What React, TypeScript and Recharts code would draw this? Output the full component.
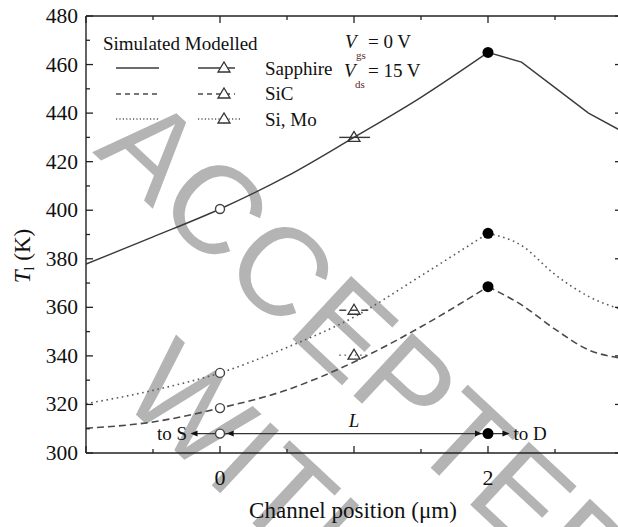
import React from 'react';
import {
  ComposedChart,
  Line,
  Scatter,
  XAxis,
  YAxis,
  ReferenceLine,
  ReferenceDot,
} from 'recharts';

// ---- data ----
const xRise = [-1, -0.5, 0, 0.5, 1, 1.5, 2];
const sapphireRise = [377.8, 389, 400.5, 414, 430, 446.5, 465];
const sicRise = [310.2, 312.8, 318.5, 326, 337.5, 352, 368.5];
const siMoRise = [320.3, 325.8, 333, 343.5, 356, 373, 390.5];

const xFall = [2, 2.25, 2.5, 2.75, 3];
const sapphireFall = [465, 461, 450.5, 440, 432.5];
const sicFall = [368.5, 361, 351, 342.5, 339];
const siMoFall = [390.5, 385.5, 373.5, 364.5, 359];

const sourceX = 0;
const drainX = 2;
const simSourceT = [400.5, 333, 318.5];
const simPeakT = [465, 390.5, 368.5];

const modelX = 1;
const modelT = [430, 358.8, 340.3];
const modelStyle = ['solid', 'dashed', 'dotted'];
const modelErr = [0.11, 0.12];

const channelY = 308;
const channelExtent = [-0.2, 2.15];
const arrowX = [-0.22, 0.05, 1.955, 2.16];
const arrowDir = [-1, -1, 1, 1];
const toSX = -0.245;
const toDX = 2.19;
const lengthLabel = { x: 1, y: 313.5 };

const xTicks = [-1, -0.5, 0, 0.5, 1, 1.5, 2, 2.5, 3];
const xTickLabels: Record<string, string> = { '0': '0', '2': '2' };
const yTicks = [300, 310, 320, 330, 340, 350, 360, 370, 380, 390, 400, 410, 420, 430, 440, 450, 460, 470, 480];
const yMajor = 20;

const watermarkLines = ['ACCEPTED', 'WITH'];

// ---- build tables ----
const mk = (xs: number[], ys: number[]) => xs.map((x, i) => ({ x, y: ys[i] }));
const sapphireRiseData = mk(xRise, sapphireRise);
const sicRiseData = mk(xRise, sicRise);
const siMoRiseData = mk(xRise, siMoRise);
const sapphireFallData = mk(xFall, sapphireFall);
const sicFallData = mk(xFall, sicFall);
const siMoFallData = mk(xFall, siMoFall);
const openData = [...simSourceT.map((y) => ({ x: sourceX, y })), { x: sourceX, y: channelY }];
const filledData = [...simPeakT.map((y) => ({ x: drainX, y })), { x: drainX, y: channelY }];
const modelData = modelT.map((y) => ({ x: modelX, y }));
const arrowData = arrowX.map((x, i) => ({ x, y: channelY, dir: arrowDir[i] }));

const SERIF = 'Liberation Serif, Tinos, Times New Roman, DejaVu Serif, serif';
const serif = { fontFamily: SERIF } as React.CSSProperties;
const INK = '#222';
const SOLID = '#3a3a3a';
const DASH = '#4a4a4a';
const DOT = '#5a5a5a';
const dashFor: Record<string, string | undefined> = { solid: undefined, dashed: '7 4', dotted: '1.6 3.6' };
const colFor: Record<string, string> = { solid: SOLID, dashed: DASH, dotted: DOT };

const isMajorX = (v: number) => Number.isInteger(v);
const isMajorY = (v: number) => v % yMajor === 0;

const BottomTick = (p: any) => {
  const v = p.payload.value;
  const len = isMajorX(v) ? 7 : 4;
  const lab = xTickLabels[String(v)];
  return (
    <g>
      <line x1={p.x} x2={p.x} y1={p.y} y2={p.y - len} stroke={INK} strokeWidth={1.3} />
      {lab !== undefined && (
        <text x={p.x} y={p.y + 32} textAnchor="middle" style={serif} fontSize={22} fill="#111">
          {lab}
        </text>
      )}
    </g>
  );
};
const TopTick = (p: any) => {
  const v = p.payload.value;
  const len = isMajorX(v) ? 7 : 4;
  return <line x1={p.x} x2={p.x} y1={p.y} y2={p.y + len} stroke={INK} strokeWidth={1.3} />;
};
const LeftTick = (p: any) => {
  const v = p.payload.value;
  const major = isMajorY(v);
  return (
    <g>
      <line x1={p.x} x2={p.x + (major ? 7 : 4)} y1={p.y} y2={p.y} stroke={INK} strokeWidth={1.3} />
      {major && (
        <text x={p.x - 8} y={p.y + 7} textAnchor="end" style={serif} fontSize={21.5} fill="#111">
          {v}
        </text>
      )}
    </g>
  );
};
const RightTick = (p: any) => {
  const v = p.payload.value;
  const len = isMajorY(v) ? 7 : 4;
  return <line x1={p.x} x2={p.x - len} y1={p.y} y2={p.y} stroke={INK} strokeWidth={1.3} />;
};

const OpenCircle = (p: any) => (
  <circle cx={p.cx} cy={p.cy} r={4.5} fill="#fff" stroke="#444" strokeWidth={1.4} />
);
const FilledCircle = (p: any) => <circle cx={p.cx} cy={p.cy} r={5.5} fill="#000" />;
const Triangle = (p: any) => (
  <polygon
    points={`${p.cx - 6},${p.cy + 4} ${p.cx + 6},${p.cy + 4} ${p.cx},${p.cy - 6}`}
    fill="none"
    stroke="#333"
    strokeWidth={1.3}
  />
);
const Arrow = (p: any) => {
  const d = p.payload.dir;
  return (
    <polygon
      points={`${p.cx},${p.cy} ${p.cx - d * 7},${p.cy - 3} ${p.cx - d * 7},${p.cy + 3}`}
      fill="#111"
    />
  );
};

const textShape = (txt: string, anchor: 'start' | 'end' | 'middle', italic = false) => (p: any) => (
  <text
    x={p.cx}
    y={p.cy + 6.5}
    textAnchor={anchor}
    style={serif}
    fontSize={19}
    fontStyle={italic ? 'italic' : 'normal'}
    fill="#111"
  >
    {txt}
  </text>
);

const W = 640;
const H = 527;

export default function App() {
  return (
    <div
      style={{
        position: 'absolute',
        left: 0,
        top: 0,
        width: 618,
        height: 527,
        overflow: 'hidden',
        background: '#fff',
      }}
    >
      <div style={{ position: 'absolute', left: 0, top: 0, width: W, height: H }}>
        {/* watermark (below the chart) */}
        <svg width={W} height={H} style={{ position: 'absolute', left: 0, top: 0 }}>
          <g style={{ fontFamily: 'Liberation Sans, Arial, sans-serif' }} fontSize={125} fill="#b4b4b4">
            <text transform="translate(92,152) rotate(43)">{watermarkLines[0]}</text>
            <text transform="translate(117,397) rotate(43)">{watermarkLines[1]}</text>
          </g>
        </svg>
        <div style={{ position: 'absolute', left: 0, top: 0 }}>
          <ComposedChart width={W} height={H} margin={{ top: 15, right: 17, bottom: 44, left: 26 }}>
            <XAxis
              xAxisId="b"
              dataKey="x"
              type="number"
              domain={[-1, 3]}
              allowDataOverflow
              ticks={xTicks}
              interval={0}
              height={30}
              tickSize={0}
              tickMargin={0}
              tickLine={false}
              tick={<BottomTick />}
              axisLine={{ stroke: INK, strokeWidth: 1.4 }}
            />
            <XAxis
              xAxisId="t"
              dataKey="x"
              orientation="top"
              type="number"
              domain={[-1, 3]}
              allowDataOverflow
              ticks={xTicks}
              interval={0}
              height={1}
              tickSize={0}
              tickMargin={0}
              tickLine={false}
              tick={<TopTick />}
              axisLine={{ stroke: INK, strokeWidth: 1.4 }}
            />
            <YAxis
              yAxisId="l"
              type="number"
              domain={[300, 480]}
              allowDataOverflow
              ticks={yTicks}
              interval={0}
              width={60}
              tickSize={0}
              tickMargin={0}
              tickLine={false}
              tick={<LeftTick />}
              axisLine={{ stroke: INK, strokeWidth: 1.4 }}
            />
            <YAxis
              yAxisId="r"
              orientation="right"
              type="number"
              domain={[300, 480]}
              allowDataOverflow
              ticks={yTicks}
              interval={0}
              width={1}
              tickSize={0}
              tickMargin={0}
              tickLine={false}
              tick={<RightTick />}
              axisLine={{ stroke: INK, strokeWidth: 1.4 }}
            />

            <Line xAxisId="b" yAxisId="l" data={sapphireRiseData} dataKey="y" type="monotone" stroke={SOLID} strokeWidth={1.4} dot={false} isAnimationActive={false} />
            <Line xAxisId="b" yAxisId="l" data={sapphireFallData} dataKey="y" type="linear" stroke={SOLID} strokeWidth={1.4} dot={false} isAnimationActive={false} />
            <Line xAxisId="b" yAxisId="l" data={sicRiseData} dataKey="y" type="monotone" stroke={DASH} strokeWidth={1.6} strokeDasharray="7 4" dot={false} isAnimationActive={false} />
            <Line xAxisId="b" yAxisId="l" data={sicFallData} dataKey="y" type="monotone" stroke={DASH} strokeWidth={1.6} strokeDasharray="7 4" dot={false} isAnimationActive={false} />
            <Line xAxisId="b" yAxisId="l" data={siMoRiseData} dataKey="y" type="monotone" stroke={DOT} strokeWidth={1.6} strokeDasharray="1.6 3.6" dot={false} isAnimationActive={false} />
            <Line xAxisId="b" yAxisId="l" data={siMoFallData} dataKey="y" type="monotone" stroke={DOT} strokeWidth={1.6} strokeDasharray="1.6 3.6" dot={false} isAnimationActive={false} />

            {modelT.map((y, i) => (
              <ReferenceLine
                key={'err' + i}
                xAxisId="b"
                yAxisId="l"
                segment={[
                  { x: modelX - modelErr[0], y },
                  { x: modelX + modelErr[1], y },
                ]}
                stroke={colFor[modelStyle[i]]}
                strokeWidth={1.4}
                strokeDasharray={dashFor[modelStyle[i]]}
              />
            ))}

            <ReferenceLine
              xAxisId="b"
              yAxisId="l"
              segment={[
                { x: channelExtent[0], y: channelY },
                { x: channelExtent[1], y: channelY },
              ]}
              stroke="#333"
              strokeWidth={1.2}
            />

            <Scatter xAxisId="b" yAxisId="l" data={modelData} dataKey="y" shape={<Triangle />} isAnimationActive={false} />
            <Scatter xAxisId="b" yAxisId="l" data={arrowData} dataKey="y" shape={<Arrow />} isAnimationActive={false} />
            <Scatter xAxisId="b" yAxisId="l" data={openData} dataKey="y" shape={<OpenCircle />} isAnimationActive={false} />
            <Scatter xAxisId="b" yAxisId="l" data={filledData} dataKey="y" shape={<FilledCircle />} isAnimationActive={false} />

            <ReferenceDot xAxisId="b" yAxisId="l" x={toSX} y={channelY} r={0} shape={textShape('to S', 'end')} />
            <ReferenceDot xAxisId="b" yAxisId="l" x={toDX} y={channelY} r={0} shape={textShape('to D', 'start')} />
            <ReferenceDot xAxisId="b" yAxisId="l" x={lengthLabel.x} y={lengthLabel.y} r={0} shape={textShape('L', 'middle', true)} />
          </ComposedChart>
        </div>

        {/* legend, conditions and axis titles */}
        <svg width={W} height={H} style={{ position: 'absolute', left: 0, top: 0, pointerEvents: 'none' }}>
          <g style={serif} fill="#111">
            <text x={103} y={50} fontSize={19}>Simulated Modelled</text>

            <line x1={116} x2={159} y1={68} y2={68} stroke={SOLID} strokeWidth={1.4} />
            <line x1={198} x2={235} y1={68} y2={68} stroke={SOLID} strokeWidth={1.4} />
            <polygon points="218,72 230,72 224,62" fill="#fff" stroke="#333" strokeWidth={1.3} />
            <text x={265} y={75} fontSize={19}>Sapphire</text>

            <line x1={116} x2={159} y1={94} y2={94} stroke={DASH} strokeWidth={1.5} strokeDasharray="5 4" />
            <line x1={198} x2={235} y1={94} y2={94} stroke={DASH} strokeWidth={1.5} strokeDasharray="5 4" />
            <polygon points="218,98 230,98 224,88" fill="#fff" stroke="#333" strokeWidth={1.3} />
            <text x={265} y={100} fontSize={19}>SiC</text>

            <line x1={116} x2={159} y1={119} y2={119} stroke={DOT} strokeWidth={1.4} strokeDasharray="1.2 2.2" />
            <line x1={198} x2={240} y1={119} y2={119} stroke={DOT} strokeWidth={1.4} strokeDasharray="1.2 2.2" />
            <polygon points="218,123 230,123 224,113" fill="#fff" stroke="#333" strokeWidth={1.3} />
            <text x={265} y={126} fontSize={19}>Si, Mo</text>

            <text x={345} y={48} fontSize={19} fontStyle="italic">V</text>
            <text x={356} y={59} fontSize={11} fill="#5a2a2a">gs</text>
            <text x={368} y={48} fontSize={19}>= 0 V</text>

            <text x={344} y={77} fontSize={19} fontStyle="italic">V</text>
            <text x={355} y={88} fontSize={11} fill="#5a2a2a">ds</text>
            <text x={368} y={77} fontSize={19}>= 15 V</text>

            <text x={353} y={518} fontSize={23} textAnchor="middle">Channel position (μm)</text>

            <text transform="translate(30,256) rotate(-90)" fontSize={23} textAnchor="middle">
              <tspan fontStyle="italic">T</tspan>
              <tspan fontSize={14} dy={4}>l</tspan>
              <tspan dy={-4}> (K)</tspan>
            </text>
          </g>
        </svg>
      </div>
    </div>
  );
}
